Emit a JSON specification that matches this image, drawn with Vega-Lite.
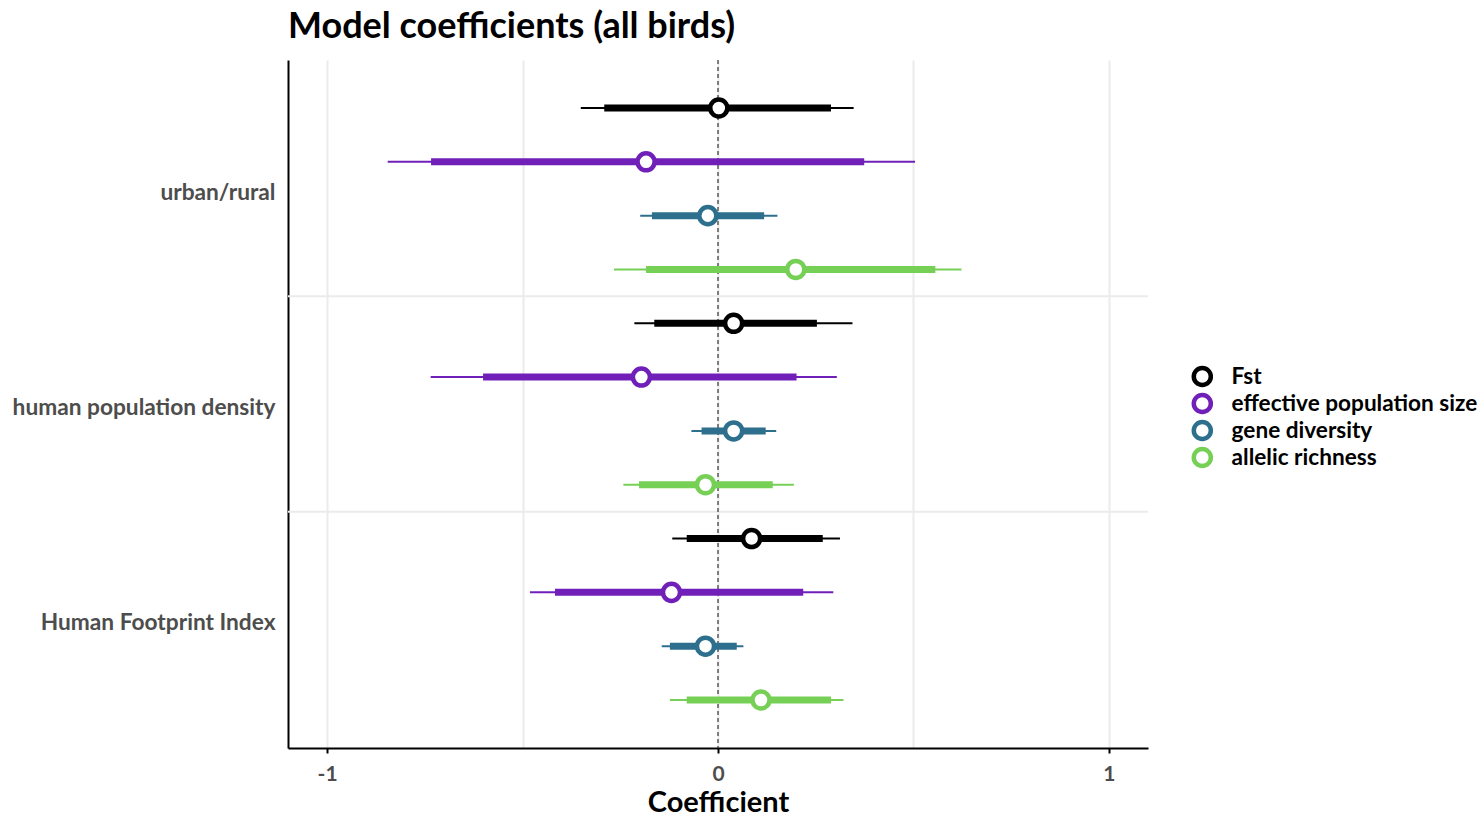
{
  "$schema": "https://vega.github.io/schema/vega-lite/v6.json",
  "autosize": {"type": "none"},
  "width": 860,
  "height": 688,
  "padding": {"left": 288, "top": 60, "right": 334, "bottom": 69},
  "background": "white",
  "title": {
    "text": "Model coefficients (all birds)",
    "anchor": "start",
    "frame": "group",
    "font": "Lato",
    "fontSize": 36,
    "fontWeight": "bold",
    "color": "#000000",
    "offset": 13
  },
  "config": {
    "view": {"stroke": null},
    "font": "Lato",
    "axis": {
      "labelFont": "Lato",
      "titleFont": "Lato",
      "labelFontWeight": "bold",
      "titleFontWeight": "bold"
    }
  },
  "datasets": {
    "coefs": [
      {"predictor": "urban/rural", "response": "Fst", "estimate": 0.002, "lower": -0.351, "upper": 0.347, "lower_inner": -0.291, "upper_inner": 0.289},
      {"predictor": "urban/rural", "response": "effective population size", "estimate": -0.184, "lower": -0.845, "upper": 0.504, "lower_inner": -0.734, "upper_inner": 0.374},
      {"predictor": "urban/rural", "response": "gene diversity", "estimate": -0.026, "lower": -0.199, "upper": 0.152, "lower_inner": -0.169, "upper_inner": 0.118},
      {"predictor": "urban/rural", "response": "allelic richness", "estimate": 0.199, "lower": -0.266, "upper": 0.623, "lower_inner": -0.184, "upper_inner": 0.556},
      {"predictor": "human population density", "response": "Fst", "estimate": 0.040, "lower": -0.214, "upper": 0.344, "lower_inner": -0.163, "upper_inner": 0.253},
      {"predictor": "human population density", "response": "effective population size", "estimate": -0.196, "lower": -0.735, "upper": 0.304, "lower_inner": -0.601, "upper_inner": 0.201},
      {"predictor": "human population density", "response": "gene diversity", "estimate": 0.040, "lower": -0.068, "upper": 0.149, "lower_inner": -0.042, "upper_inner": 0.122},
      {"predictor": "human population density", "response": "allelic richness", "estimate": -0.032, "lower": -0.242, "upper": 0.194, "lower_inner": -0.202, "upper_inner": 0.140},
      {"predictor": "Human Footprint Index", "response": "Fst", "estimate": 0.086, "lower": -0.117, "upper": 0.312, "lower_inner": -0.080, "upper_inner": 0.268},
      {"predictor": "Human Footprint Index", "response": "effective population size", "estimate": -0.119, "lower": -0.481, "upper": 0.295, "lower_inner": -0.417, "upper_inner": 0.218},
      {"predictor": "Human Footprint Index", "response": "gene diversity", "estimate": -0.032, "lower": -0.144, "upper": 0.065, "lower_inner": -0.123, "upper_inner": 0.048},
      {"predictor": "Human Footprint Index", "response": "allelic richness", "estimate": 0.110, "lower": -0.123, "upper": 0.321, "lower_inner": -0.080, "upper_inner": 0.289}
    ],
    "separators": [
      {"predictor": "human population density"},
      {"predictor": "Human Footprint Index"}
    ],
    "reference": [
      {"coefficient": 0}
    ]
  },
  "layer": [
    {
      "data": {"name": "separators"},
      "mark": {"type": "rule", "color": "#ebebeb", "strokeWidth": 2},
      "encoding": {
        "y": {"field": "predictor", "type": "nominal", "bandPosition": 0}
      }
    },
    {
      "data": {"name": "reference"},
      "mark": {"type": "rule", "color": "#333333", "strokeWidth": 1.2, "strokeDash": [4, 3]},
      "encoding": {
        "x": {"field": "coefficient", "type": "quantitative"}
      }
    },
    {
      "data": {"name": "coefs"},
      "mark": {"type": "rule", "strokeWidth": 2, "strokeCap": "butt"},
      "encoding": {
        "x": {"field": "lower", "type": "quantitative"},
        "x2": {"field": "upper"},
        "y": {"field": "predictor", "type": "nominal"},
        "yOffset": {"field": "response", "type": "nominal"},
        "color": {"field": "response", "type": "nominal"}
      }
    },
    {
      "data": {"name": "coefs"},
      "mark": {"type": "rule", "strokeWidth": 7, "strokeCap": "butt"},
      "encoding": {
        "x": {"field": "lower_inner", "type": "quantitative"},
        "x2": {"field": "upper_inner"},
        "y": {"field": "predictor", "type": "nominal"},
        "yOffset": {"field": "response", "type": "nominal"},
        "color": {"field": "response", "type": "nominal"}
      }
    },
    {
      "data": {"name": "coefs"},
      "mark": {"type": "point", "shape": "circle", "filled": false, "fill": "white", "fillOpacity": 1, "opacity": 1, "strokeWidth": 4.5, "size": 290},
      "encoding": {
        "x": {"field": "estimate", "type": "quantitative"},
        "y": {"field": "predictor", "type": "nominal"},
        "yOffset": {"field": "response", "type": "nominal"},
        "color": {"field": "response", "type": "nominal"}
      }
    }
  ],
  "encoding": {
    "x": {
      "type": "quantitative",
      "scale": {"domain": [-1.1, 1.1], "nice": false, "zero": false},
      "axis": {
        "title": "Coefficient",
        "titleFontSize": 29,
        "titleColor": "#000000",
        "titlePadding": 4,
        "values": [-1, -0.5, 0, 0.5, 1],
        "labelExpr": "abs(datum.value) == 0.5 ? '' : '' + datum.value",
        "labelFontSize": 21,
        "labelColor": "#4d4d4d",
        "labelPadding": 10,
        "domainColor": "#000000",
        "domainWidth": 2,
        "tickColor": "#000000",
        "tickWidth": 2,
        "tickSize": 5,
        "tickOpacity": {"condition": {"test": "abs(datum.value) == 0.5", "value": 0}, "value": 1},
        "grid": true,
        "gridColor": "#ebebeb",
        "gridWidth": 2
      }
    },
    "y": {
      "type": "nominal",
      "scale": {"domain": ["urban/rural", "human population density", "Human Footprint Index"], "paddingInner": 0, "paddingOuter": 0.098},
      "axis": {
        "title": null,
        "labelFontSize": 22.7,
        "labelColor": "#4d4d4d",
        "labelPadding": 13,
        "labelOffset": 4,
        "labelLimit": 0,
        "ticks": false,
        "grid": false,
        "domainColor": "#000000",
        "domainWidth": 2
      }
    },
    "yOffset": {
      "type": "nominal",
      "scale": {"domain": ["Fst", "effective population size", "gene diversity", "allelic richness"], "paddingInner": 0, "paddingOuter": 0}
    },
    "color": {
      "type": "nominal",
      "scale": {
        "domain": ["Fst", "effective population size", "gene diversity", "allelic richness"],
        "range": ["#000000", "#7020b8", "#2e6f8e", "#76d056"]
      },
      "legend": {
        "title": null,
        "orient": "none",
        "legendX": 903,
        "legendY": 303,
        "symbolType": "circle",
        "symbolSize": 290,
        "symbolStrokeWidth": 4.5,
        "symbolFillColor": "white",
        "symbolOpacity": 1,
        "labelFont": "Lato",
        "labelFontSize": 22.6,
        "labelFontWeight": "bold",
        "labelColor": "#000000",
        "labelLimit": 0,
        "labelOffset": 18,
        "clipHeight": 27,
        "rowPadding": 0
      }
    }
  }
}
